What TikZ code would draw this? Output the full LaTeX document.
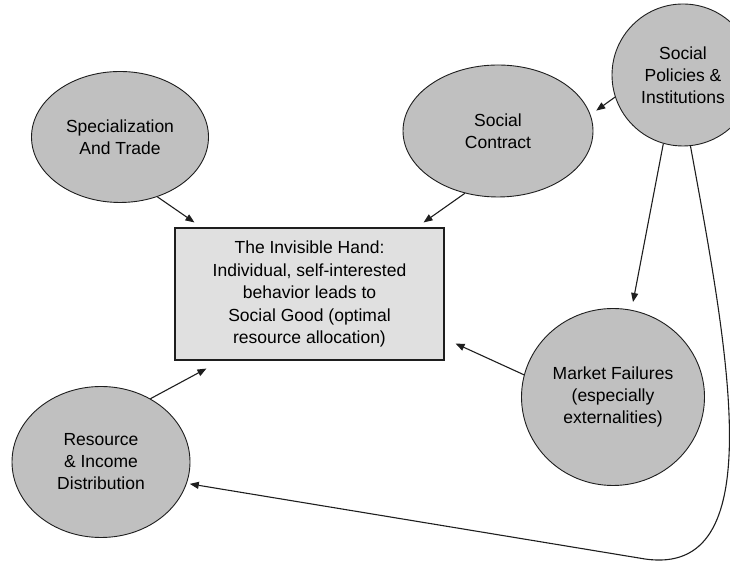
\documentclass[tikz,border=0pt]{standalone}
\usepackage{fontspec}
\setmainfont{Liberation Sans}
\usetikzlibrary{arrows.meta,shapes.geometric}
\definecolor{bubblegray}{RGB}{192,192,192}
\definecolor{panelgray}{RGB}{224,224,224}
\definecolor{ink}{RGB}{30,30,30}

\begin{document}
\begin{tikzpicture}[x=1pt,y=1pt,
    bubble/.style={ellipse,draw=ink,fill=bubblegray,line width=0.9pt,inner sep=0pt,align=center,font=\fontsize{17.5}{22}\selectfont},
    link/.style={draw=ink,line width=1.1pt,-{Triangle[length=9pt,width=7pt]}}]
  \useasboundingbox (0,0) rectangle (730,561);
  \node[bubble,minimum width=177,minimum height=131] (trade) at (120,424) {Specialization\\And Trade};
  \node[bubble,minimum width=190,minimum height=132] (contract) at (498,430) {Social\\Contract};
  \node[bubble,circle,minimum size=142] (policies) at (683,486) {Social\\Policies \&\\Institutions};
  \node[bubble,minimum width=183,minimum height=177] (market) at (613,164) {Market Failures\\(especially\\externalities)};
  \node[bubble,minimum width=178,minimum height=151] (resource) at (101,99) {Resource\\\& Income\\Distribution};
  \node[draw=ink,fill=panelgray,line width=1.1pt,align=center,minimum width=269,minimum height=132,
    font=\fontsize{17.5}{22.5}\selectfont] (hand) at (309.5,267)
    {The Invisible Hand:\\Individual, self-interested\\behavior leads to\\Social Good (optimal\\resource allocation)};

  \draw[link] (trade.-58) -- ([xshift=20pt,yshift=5pt]hand.north west);
  \draw[link] (contract.-118) -- ([xshift=-21pt,yshift=5pt]hand.north east);
  \draw[link,shorten >=7pt] (policies.198) -- (contract.10);
  \draw[link,shorten >=8pt] (policies.-106) -- (market.78);
  \draw[link] (market.166) -- ([xshift=11pt,yshift=17pt]hand.south east);
  \draw[link] (resource.52) -- ([xshift=32pt,yshift=-8pt]hand.south west);
  \coordinate (bend) at (645,2);
  \draw[link,shorten >=3pt] (policies.-84) .. controls (730,200) and (770,-16) .. (bend) -- (resource.-14);
\end{tikzpicture}
\end{document}
